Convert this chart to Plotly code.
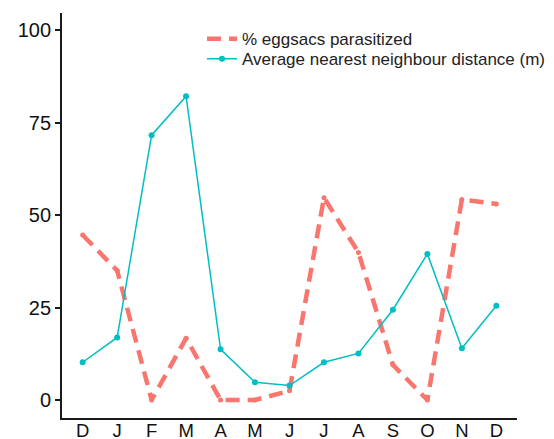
import plotly.graph_objects as go

months = ["D", "J", "F", "M", "A", "M", "J", "J", "A", "S", "O", "N", "D"]
parasitized = [44.6, 35.0, 0.0, 16.7, 0.0, 0.0, 2.5, 54.7, 39.9, 9.5, 0.0, 54.2, 53.0]
nn_distance = [10.2, 16.9, 71.6, 82.1, 13.7, 4.8, 3.9, 10.2, 12.6, 24.4, 39.5, 14.0, 25.5]
y_ticks = [0, 25, 50, 75, 100]

RED = "#F8766D"
TEAL = "#00BFC4"
FONT = "Liberation Sans, Arial, sans-serif"
W, H = 554, 439

x = list(range(len(months)))

fig = go.Figure()
fig.add_trace(go.Scatter(
    x=x, y=parasitized, mode="lines", name="% eggsacs parasitized",
    line=dict(color=RED, width=4.5, dash="14px,8px"), legend="legend",
))
fig.add_trace(go.Scatter(
    x=x, y=parasitized, mode="markers", showlegend=False,
    marker=dict(color=RED, size=5),
))
fig.add_trace(go.Scatter(
    x=x, y=nn_distance, mode="lines+markers", name="Average nearest neighbour distance (m)",
    line=dict(color=TEAL, width=1.5),
    marker=dict(color=TEAL, size=6), legend="legend2",
))

legend_common = dict(
    xanchor="left", yanchor="middle",
    font=dict(size=17, family=FONT, color="#222222"),
    bgcolor="rgba(0,0,0,0)", borderwidth=0,
)

fig.update_layout(
    width=W, height=H,
    margin=dict(l=0, r=0, t=0, b=0),
    paper_bgcolor="white", plot_bgcolor="white",
    font=dict(family=FONT, color="#111111"),
    showlegend=True,
    legend=dict(x=202 / W, y=1 - 39.3 / H, **legend_common),
    legend2=dict(x=202 / W, y=1 - 59.3 / H, **legend_common),
)
fig.update_xaxes(
    domain=[62 / W, 517 / W],
    range=[-0.6, 12.6], tickmode="array", tickvals=x, ticktext=months,
    showgrid=False, zeroline=False, showline=True, linecolor="#1a1a1a", linewidth=1.8,
    ticks="", ticklabelstandoff=-5,
    tickfont=dict(size=18.5, family=FONT, color="#111111"), automargin=False,
)
fig.update_yaxes(
    domain=[1 - 418.3 / H, 1 - 12.7 / H],
    range=[-4.95, 104.7], tickmode="array", tickvals=y_ticks,
    showgrid=False, zeroline=False, showline=True, linecolor="#1a1a1a", linewidth=1.8,
    ticks="outside", ticklen=5, tickwidth=1.5, tickcolor="#1a1a1a",
    tickfont=dict(size=20, family=FONT, color="#111111"), automargin=False,
)

fig.write_html(
    "out.html",
    config={"displayModeBar": False},
    post_script="document.body.style.margin='0';document.body.style.overflow='hidden';",
)
